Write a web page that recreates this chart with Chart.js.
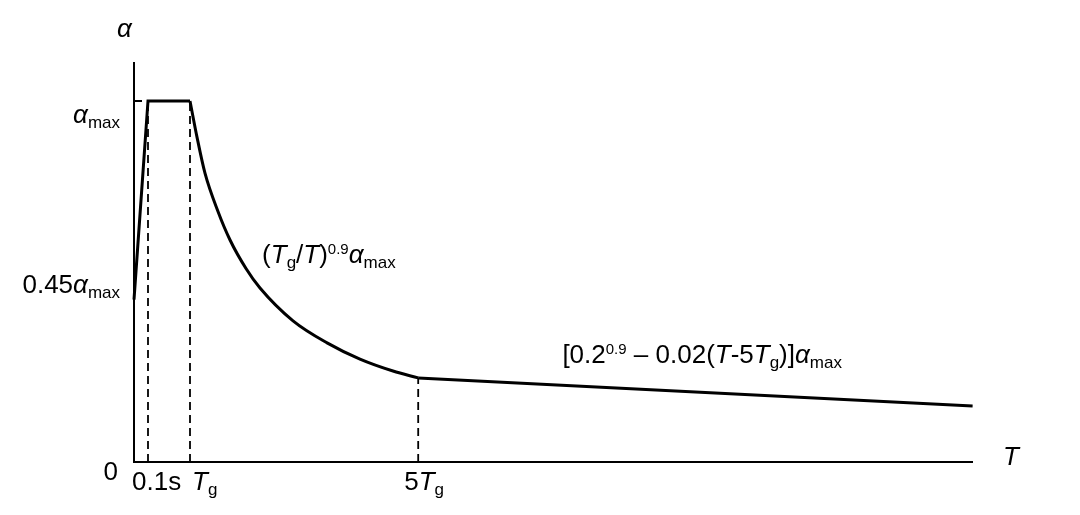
<!DOCTYPE html>
<html>
<head>
<meta charset="utf-8">
<script src="https://cdn.jsdelivr.net/npm/chart.js@4.4.1/dist/chart.umd.min.js"></script>
<style>
  body { margin: 0; background: #fff; }
  #spectrum { display: block; }
</style>
</head>
<body>
<canvas id="spectrum" width="1080" height="515"></canvas>
<script>
// period T (s) and coefficient alpha (as fraction of alpha_max)
var riseT = [0, 0.1, 0.4];
var riseA = [0.45, 1, 1];

var decayT = [0.4, 0.45, 0.507, 0.6, 0.686, 0.8, 0.9, 1.136, 1.379, 1.614, 1.85, 2.03];
var decayA = [1, 0.9, 0.8, 0.694, 0.615, 0.536, 0.482, 0.391, 0.33, 0.285, 0.252, 0.233];

var tailT = [2.03, 5.99];
var tailA = [0.233, 0.155];

// key periods marked on the T axis: 0.1s, Tg, 5Tg
var markT = [0.1, 0.4, 2.03];
var markA = [1, 1, 0.233];

var tMax = 6.0;
var aMax = 1.108;

function pts(xs, ys) {
    var out = [];
    for (var i = 0; i < xs.length; i++) {
        out.push({x: xs[i], y: ys[i]});
    }
    return out;
}

var FONT = '"Liberation Sans", Arial, sans-serif';
var styles = {
    n:   {font: '26px ' + FONT, dy: 0},
    i:   {font: 'italic 26px ' + FONT, dy: 0},
    sub: {font: '17px ' + FONT, dy: 5},
    sup: {font: '15px ' + FONT, dy: -9}
};

// draws text made of pieces like ['T','i'], ['g','sub']
function drawRich(ctx, parts, x, y, align) {
    var w = 0;
    parts.forEach(function (p) {
        ctx.font = styles[p[1]].font;
        w += ctx.measureText(p[0]).width;
    });
    var cx = align === 'right' ? x - w : (align === 'center' ? x - w / 2 : x);
    ctx.textAlign = 'left';
    ctx.textBaseline = 'alphabetic';
    ctx.fillStyle = '#000';
    parts.forEach(function (p) {
        var s = styles[p[1]];
        ctx.font = s.font;
        ctx.fillText(p[0], cx, y + s.dy);
        cx += ctx.measureText(p[0]).width;
    });
}

var aMaxParts = [['α', 'i'], ['max', 'sub']];

var axesAndText = {
    id: 'axesAndText',
    beforeDatasetsDraw: function (chart) {
        var ctx = chart.ctx;
        var a = chart.chartArea;
        ctx.save();
        ctx.strokeStyle = '#000';
        ctx.lineWidth = 2;
        ctx.beginPath();
        ctx.moveTo(a.left, a.top);
        ctx.lineTo(a.left, a.bottom);
        ctx.lineTo(a.right - 1, a.bottom);
        ctx.stroke();
        ctx.restore();
    },
    afterDraw: function (chart) {
        var ctx = chart.ctx;
        var xs = chart.scales.x;
        var ys = chart.scales.y;
        var a = chart.chartArea;
        ctx.save();

        // axis names
        drawRich(ctx, [['α', 'i']], a.left - 17, a.top - 25, 'left');
        drawRich(ctx, [['T', 'i']], a.right + 29, a.bottom + 3, 'left');

        // alpha axis labels
        drawRich(ctx, aMaxParts, a.left - 14, ys.getPixelForValue(1) + 22, 'right');
        drawRich(ctx, [['0.45', 'n']].concat(aMaxParts), a.left - 14, ys.getPixelForValue(0.45) - 7, 'right');
        drawRich(ctx, [['0', 'n']], a.left - 16, ys.getPixelForValue(0) + 18, 'right');

        // T axis labels
        var by = a.bottom + 28;
        drawRich(ctx, [['0.1s', 'n']], xs.getPixelForValue(markT[0]) - 16, by, 'left');
        drawRich(ctx, [['T', 'i'], ['g', 'sub']], xs.getPixelForValue(markT[1]) + 2, by, 'left');
        drawRich(ctx, [['5', 'n'], ['T', 'i'], ['g', 'sub']], xs.getPixelForValue(markT[2]) - 14, by, 'left');

        // formulas
        drawRich(ctx, [['(', 'n'], ['T', 'i'], ['g', 'sub'], ['/', 'n'], ['T', 'i'], [')', 'n'], ['0.9', 'sup']].concat(aMaxParts),
            xs.getPixelForValue(0.915), ys.getPixelForValue(0.55), 'left');
        drawRich(ctx, [['[0.2', 'n'], ['0.9', 'sup'], [' – 0.02(', 'n'], ['T', 'i'], ['-5', 'n'], ['T', 'i'], ['g', 'sub'], [')]', 'n']].concat(aMaxParts),
            xs.getPixelForValue(3.06), ys.getPixelForValue(0.275), 'left');

        ctx.restore();
    }
};

var dashed = {
    borderColor: '#000',
    borderWidth: 1.8,
    borderDash: [8, 5],
    pointRadius: 0,
    clip: false
};

var datasets = [
    Object.assign({data: pts([0, markT[0]], [1, 1])}, dashed),
    Object.assign({data: pts([markT[0], markT[0]], [0, markA[0]])}, dashed),
    Object.assign({data: pts([markT[1], markT[1]], [0, markA[1]])}, dashed),
    Object.assign({data: pts([markT[2], markT[2]], [0, markA[2]])}, dashed),
    {
        data: pts(riseT, riseA),
        borderColor: '#000',
        borderWidth: 3,
        pointRadius: 0,
        tension: 0,
        clip: false
    },
    {
        data: pts(decayT, decayA),
        borderColor: '#000',
        borderWidth: 3,
        pointRadius: 0,
        cubicInterpolationMode: 'monotone',
        clip: false
    },
    {
        data: pts(tailT, tailA),
        borderColor: '#000',
        borderWidth: 3,
        pointRadius: 0,
        tension: 0,
        clip: false
    }
];

var spectrumChart = new Chart(document.getElementById('spectrum'), {
    type: 'line',
    data: {datasets: datasets},
    options: {
        responsive: false,
        animation: false,
        layout: {
            padding: {left: 134, top: 62, right: 106, bottom: 53}
        },
        plugins: {
            legend: {display: false},
            tooltip: {enabled: false}
        },
        scales: {
            x: {type: 'linear', min: 0, max: tMax, display: false},
            y: {type: 'linear', min: 0, max: aMax, display: false}
        }
    },
    plugins: [axesAndText]
});
</script>
</body>
</html>
